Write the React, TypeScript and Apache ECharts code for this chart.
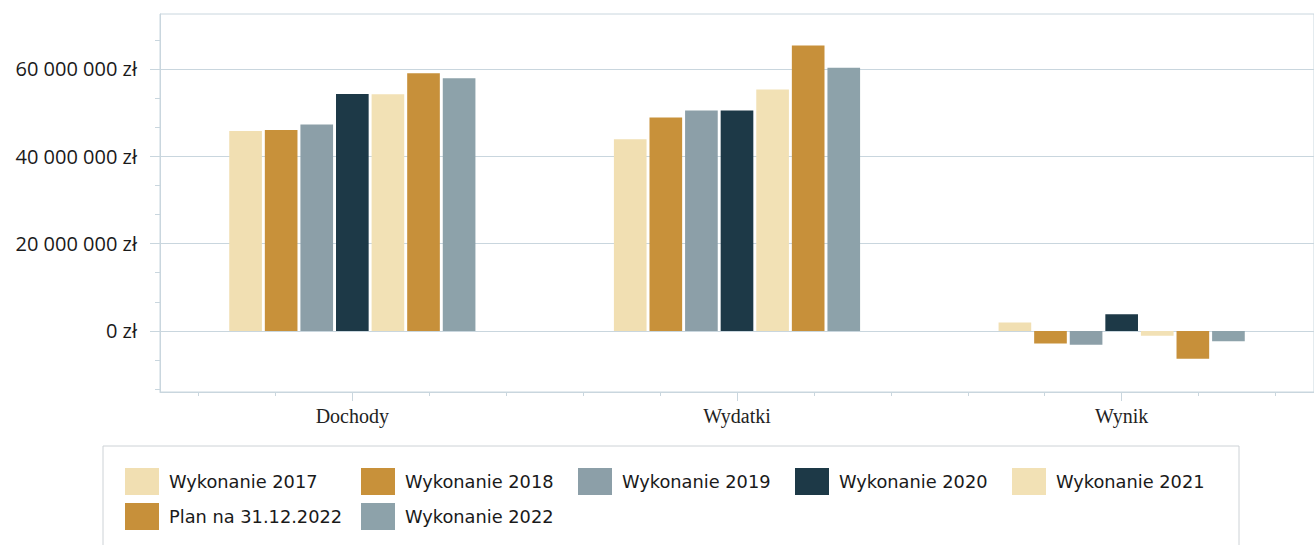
import React, { useEffect, useRef } from "react";
import * as echarts from "echarts";

const categories = ["Dochody", "Wydatki", "Wynik"];
const seriesNames = [
  "Wykonanie 2017",
  "Wykonanie 2018",
  "Wykonanie 2019",
  "Wykonanie 2020",
  "Wykonanie 2021",
  "Plan na 31.12.2022",
  "Wykonanie 2022",
];
const w2017 = [45.8e6, 43.9e6, 1.9e6];
const w2018 = [46.0e6, 48.9e6, -2.9e6];
const w2019 = [47.3e6, 50.5e6, -3.2e6];
const w2020 = [54.3e6, 50.5e6, 3.8e6];
const w2021 = [54.2e6, 55.3e6, -1.1e6];
const plan2022 = [59.0e6, 65.4e6, -6.4e6];
const w2022 = [57.9e6, 60.3e6, -2.4e6];
const seriesValues = [w2017, w2018, w2019, w2020, w2021, plan2022, w2022];
const colors = ["#F1DFB2", "#C8913A", "#8C9FA8", "#1D3947", "#F2E1B5", "#C7903A", "#8DA2AA"];

const yMajorTicks = [0, 20e6, 40e6, 60e6];
const yMinorTicks = [-13.333333e6, -6.666667e6, 6.666667e6, 13.333333e6, 26.666667e6, 33.333333e6, 46.666667e6, 53.333333e6, 66.666667e6];
const xMinorTicks = [1, 3, 7, 9, 11, 13, 17, 19, 21, 23, 27, 29];

const legendLeft = [125, 361, 578, 795, 1012, 125, 361];
const legendTop = [468, 468, 468, 468, 468, 503, 503];

const gridColor = "#c9d6de";

function fmt(v: number): string {
  const s = Math.round(v).toString().replace(/\B(?=(\d{3})+(?!\d))/g, " ");
  return s + " zł";
}

export default function App() {
  const ref = useRef<HTMLDivElement>(null);
  useEffect(() => {
    if (!ref.current) return;
    const chart = echarts.init(ref.current, undefined, { renderer: "svg" });
    const option: any = {
      animation: false,
      backgroundColor: "#ffffff",
      grid: {
        left: 160,
        top: 14,
        right: -10,
        bottom: 153,
        show: true,
        borderColor: gridColor,
        borderWidth: 1,
        containLabel: false,
      },
      xAxis: [
        {
          type: "category",
          data: categories,
          position: "bottom",
          axisLine: { show: true, onZero: false, lineStyle: { color: gridColor } },
          axisTick: { show: true, alignWithLabel: true, length: 9, lineStyle: { color: gridColor } },
          axisLabel: {
            margin: 14,
            color: "#222",
            fontFamily: "Liberation Serif",
            fontSize: 20,
          },
        },
        {
          type: "value",
          min: 0,
          max: 30,
          position: "bottom",
          axisLine: { show: false, onZero: false },
          axisLabel: { show: false },
          splitLine: { show: false },
          axisTick: { show: true, length: 4, customValues: xMinorTicks, lineStyle: { color: gridColor } },
        },
      ],
      yAxis: [
        {
          type: "value",
          min: -14e6,
          max: 72.6e6,
          splitNumber: 4,
          axisLine: { show: true, onZero: false, lineStyle: { color: gridColor } },
          axisTick: { show: true, length: 10, customValues: yMajorTicks, lineStyle: { color: gridColor } },
          splitLine: { show: true, lineStyle: { color: gridColor, width: 1 } },
          axisLabel: {
            customValues: yMajorTicks,
            margin: 23,
            color: "#1a1a1a",
            fontFamily: "Open Sans",
            fontSize: 20,
            formatter: (v: number) => fmt(v),
          },
        },
        {
          type: "value",
          min: -14e6,
          max: 72.6e6,
          position: "left",
          axisLine: { show: false, onZero: false },
          axisLabel: { show: false },
          splitLine: { show: false },
          axisTick: { show: true, length: 5, customValues: yMinorTicks, lineStyle: { color: gridColor } },
        },
      ],
      legend: seriesNames.map((name, i) => ({
        show: true,
        data: [name],
        left: legendLeft[i],
        top: legendTop[i],
        padding: 0,
        icon: "rect",
        itemWidth: 34,
        itemHeight: 27,
        textStyle: {
          color: "#1a1a1a",
          fontFamily: "DejaVu Sans",
          fontSize: 17.8,
          padding: [0, 0, 0, 5],
        },
      })),
      graphic: [
        {
          type: "rect",
          shape: { x: 103, y: 446, width: 1136, height: 130 },
          style: { fill: "none", stroke: "#cdd2d6", lineWidth: 1 },
          silent: true,
          z: -1,
        },
      ],
      series: seriesNames.map((name, i) => ({
        name,
        type: "bar",
        xAxisIndex: 0,
        yAxisIndex: 0,
        data: seriesValues[i],
        barCategoryGap: "36%",
        barGap: "9%",
        itemStyle: { color: colors[i] },
      })),
    };
    chart.setOption(option);
    return () => chart.dispose();
  }, []);
  return (
    <div
      ref={ref}
      style={{ position: "fixed", left: 0, top: 0, width: 1314, height: 545, background: "#fff" }}
    />
  );
}
